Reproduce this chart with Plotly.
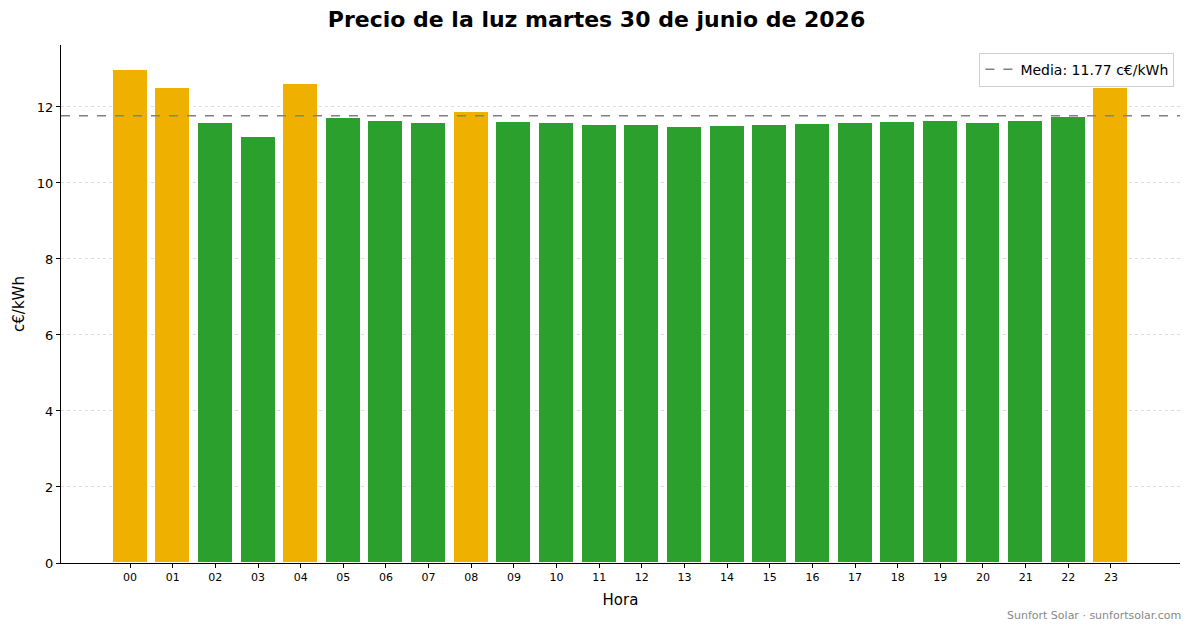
import plotly.graph_objects as go

# Datos del día
horas = [f"{h:02d}" for h in range(24)]
precios = [12.98, 12.51, 11.59, 11.22, 12.61, 11.72, 11.64, 11.57, 11.88, 11.61,
           11.59, 11.53, 11.53, 11.48, 11.51, 11.53, 11.56, 11.59, 11.61, 11.64,
           11.59, 11.64, 11.74, 12.50]
media = 11.77
yticks = [0, 2, 4, 6, 8, 10, 12]

# naranja si está por encima de la media, verde si no
colores = ["#f0b000" if p > media else "#2ca02c" for p in precios]

fig = go.Figure()

fig.add_trace(
    go.Bar(
        x=list(range(24)),
        y=precios,
        width=0.82,
        marker=dict(color=colores, line=dict(color="white", width=1)),
        showlegend=False,
        hoverinfo="y"
    ))

fig.add_hline(
    y=media,
    line=dict(color="#808080", width=1.5, dash="dash"),
    showlegend=True,
    name=f"Media: {media:.2f} c€/kWh"
)

fig.update_layout(
    width=1193,
    height=628,
    margin=dict(l=61, r=13, t=45, b=65),
    plot_bgcolor="white",
    paper_bgcolor="white",
    font=dict(family="DejaVu Sans", size=13, color="black"),
    title=dict(text="<b>Precio de la luz martes 30 de junio de 2026</b>",
               x=0.5, xanchor="center", y=0.97, yanchor="middle",
               font=dict(size=22)),
    bargap=0,
    legend=dict(x=0.995, y=0.985, xanchor="right", yanchor="top",
                bgcolor="white", bordercolor="#d0d0d0", borderwidth=1,
                font=dict(size=14), itemwidth=30),
)

fig.update_xaxes(
    range=[-1.62, 24.62],
    tickmode="array",
    tickvals=list(range(24)),
    ticktext=horas,
    tickfont=dict(size=11),
    ticks="outside", ticklen=4, tickcolor="black",
    showline=True, linecolor="black", linewidth=1,
    showgrid=False, zeroline=False,
    title=dict(text="Hora", font=dict(size=15), standoff=11),
)

fig.update_yaxes(
    range=[0, 13.63],
    tickmode="array",
    tickvals=yticks,
    ticks="outside", ticklen=4, tickcolor="black",
    showline=True, linecolor="black", linewidth=1,
    showgrid=True, gridcolor="#dddddd", griddash="dot", gridwidth=1,
    zeroline=False,
    title=dict(text="c€/kWh", font=dict(size=15), standoff=8),
)

fig.add_annotation(
    text="Sunfort Solar · sunfortsolar.com",
    xref="paper", yref="paper", x=1.003, y=-0.085,
    xanchor="right", yanchor="top", showarrow=False,
    font=dict(size=11, color="#888888")
)

# quitar el margen del body para que la figura empiece en (0, 0)
fig.write_html("out.html", config={"displayModeBar": False},
               post_script="document.body.style.margin='0';")
